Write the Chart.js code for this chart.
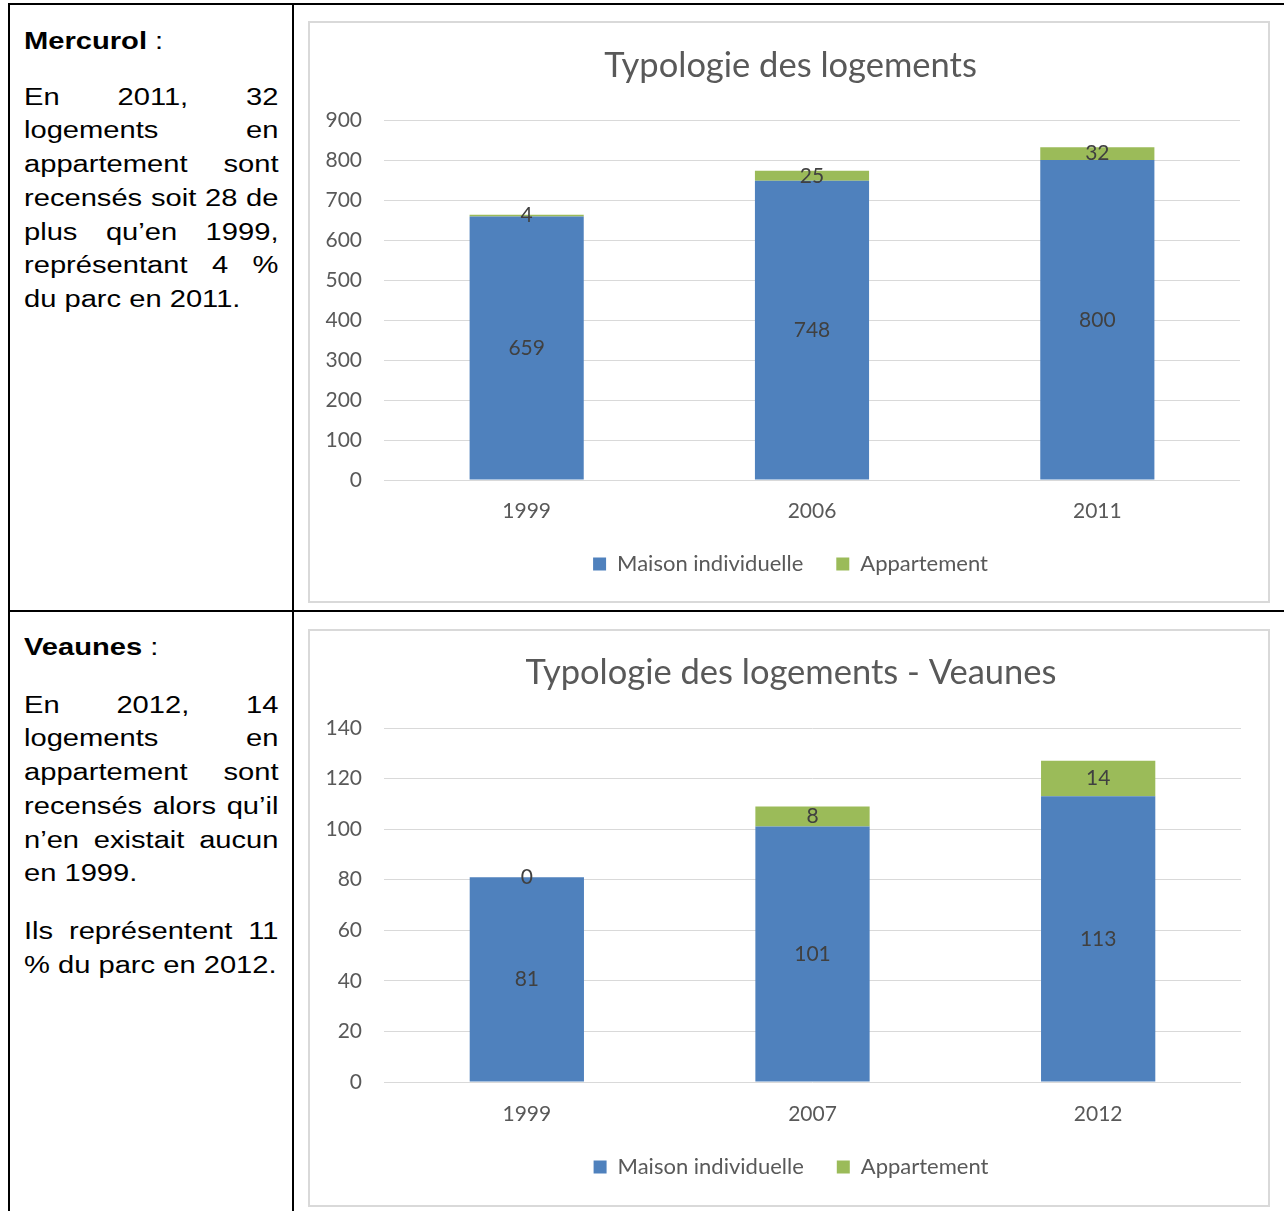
<!DOCTYPE html>
<html lang="fr">
<head>
<meta charset="utf-8">
<title>Typologie des logements</title>
<script src="https://cdn.jsdelivr.net/npm/chart.js@4.4.1/dist/chart.umd.min.js"></script>
<style>
    html, body { margin: 0; padding: 0; background: #fff; }
    body { width: 1284px; height: 1211px; position: relative; overflow: hidden; }
    .line { position: absolute; background: #000; }
    /* the source text is Arial, drawn a bit wider than tall */
    .txt {
        position: absolute; left: 24px; width: 203.6px;
        transform-origin: left top; transform: scaleX(1.25);
        font-family: "Liberation Sans", Arial, sans-serif;
        font-size: 23.3px; line-height: 33.7px; color: #000;
        text-align: justify;
    }
    .txt p { margin: 0; }
    .frame {
        position: absolute; left: 308px; width: 962px;
        border: 2px solid #d9d9d9; box-sizing: border-box; background: #fff;
    }
    .frame canvas { display: block; }
</style>
</head>
<body>
<!-- table lines -->
<div class="line" style="left:8px; top:3px; width:1290px; height:2px;"></div>
<div class="line" style="left:8px; top:610px; width:1290px; height:2px;"></div>
<div class="line" style="left:8px; top:3px; width:2px; height:1220px;"></div>
<div class="line" style="left:292px; top:3px; width:2px; height:1220px;"></div>

<div class="txt" style="top:25px;">
    <p style="margin-bottom:22px;"><b>Mercurol</b> :</p>
    <p>En 2011, 32 logements en appartement sont recensés soit 28 de plus qu’en 1999, représentant 4 % du parc en 2011.</p>
</div>
<div class="txt" style="top:631px;">
    <p style="margin-bottom:24px;"><b>Veaunes</b> :</p>
    <p style="margin-bottom:24px;">En 2012, 14 logements en appartement sont recensés alors qu’il n’en existait aucun en 1999.</p>
    <p>Ils représentent 11 % du parc en 2012.</p>
</div>

<div class="frame" style="top:21px; height:582px;">
    <canvas id="chartMercurol"></canvas>
</div>
<div class="frame" style="top:629px; height:578px;">
    <canvas id="chartVeaunes"></canvas>
</div>

<script>
// Mercurol
const mercurolYears = ['1999', '2006', '2011'];
const mercurolMaison = [659, 748, 800];
const mercurolAppart = [4, 25, 32];
const mercurolTicks = { max: 900, step: 100 };

// Veaunes
const veaunesYears = ['1999', '2007', '2012'];
const veaunesMaison = [81, 101, 113];
const veaunesAppart = [0, 8, 14];
const veaunesTicks = { max: 140, step: 20 };

const BLUE = '#4f81bd';
const GREEN = '#9bbb59';
const GREY_TEXT = '#595959';
const FONT = 'Lato, "Open Sans", sans-serif';

// value labels centred in each stacked segment
const segmentLabels = {
    id: 'segmentLabels',
    afterDatasetsDraw(chart) {
        const ctx = chart.ctx;
        ctx.save();
        ctx.font = '21px ' + FONT;
        ctx.fillStyle = '#404040';
        ctx.textAlign = 'center';
        ctx.textBaseline = 'middle';
        chart.data.datasets.forEach((ds, i) => {
            chart.getDatasetMeta(i).data.forEach((bar, j) => {
                const y = (bar.y + bar.base) / 2;
                ctx.fillText(String(ds.data[j]), bar.x, y);
            });
        });
        ctx.restore();
    }
};

function makeChart(id, title, years, maison, appart, ticks, opts) {
    const canvas = document.getElementById(id);
    canvas.width = opts.width;
    canvas.height = opts.height;
    return new Chart(canvas.getContext('2d'), {
        type: 'bar',
        data: {
            labels: years,
            datasets: [
                { label: 'Maison individuelle', data: maison, backgroundColor: BLUE },
                { label: 'Appartement', data: appart, backgroundColor: GREEN }
            ]
        },
        options: {
            responsive: false,
            animation: false,
            devicePixelRatio: 1,
            datasets: { bar: { categoryPercentage: 1, barPercentage: 0.4 } },
            // left padding pushes title and legend to the right, like the original
            layout: { padding: { left: 31, right: opts.right, top: 0, bottom: opts.bottom } },
            plugins: {
                title: {
                    display: true,
                    text: title,
                    color: GREY_TEXT,
                    font: { family: FONT, size: 34.5, weight: 'normal' },
                    padding: { top: opts.titleTop, bottom: opts.titleBottom }
                },
                legend: {
                    position: 'bottom',
                    labels: {
                        color: GREY_TEXT,
                        font: { family: FONT, size: 22 },
                        boxWidth: 13,
                        boxHeight: 13,
                        padding: 33
                    }
                },
                tooltip: { enabled: false }
            },
            scales: {
                x: {
                    stacked: true,
                    grid: { display: false, drawTicks: false },
                    border: { display: false },
                    ticks: { color: GREY_TEXT, font: { family: FONT, size: 21 }, padding: opts.xPad },
                    afterFit: function(scale) { scale.height = opts.xHeight; }
                },
                y: {
                    stacked: true,
                    min: 0,
                    max: ticks.max,
                    grid: { color: '#d9d9d9', drawTicks: false },
                    border: { display: false },
                    ticks: {
                        stepSize: ticks.step,
                        color: GREY_TEXT,
                        font: { family: FONT, size: 21 },
                        padding: 22
                    },
                    afterFit: function(scale) {
                        scale.width = 43;
                        // labels reach into the left padding, so don't clip them
                        scale._computeLabelArea = function() { return undefined; };
                    }
                }
            }
        },
        plugins: [segmentLabels]
    });
}

document.addEventListener('DOMContentLoaded', function() {
    makeChart('chartMercurol', 'Typologie des logements',
        mercurolYears, mercurolMaison, mercurolAppart, mercurolTicks,
        { width: 958, height: 578, right: 28, bottom: 16, titleTop: 22.3, titleBottom: 33.3, xPad: 18.4, xHeight: 40 });

    makeChart('chartVeaunes', 'Typologie des logements - Veaunes',
        veaunesYears, veaunesMaison, veaunesAppart, veaunesTicks,
        { width: 958, height: 574, right: 27, bottom: 17, titleTop: 21.3, titleBottom: 34.3, xPad: 19.4, xHeight: 41 });
});
</script>
</body>
</html>
